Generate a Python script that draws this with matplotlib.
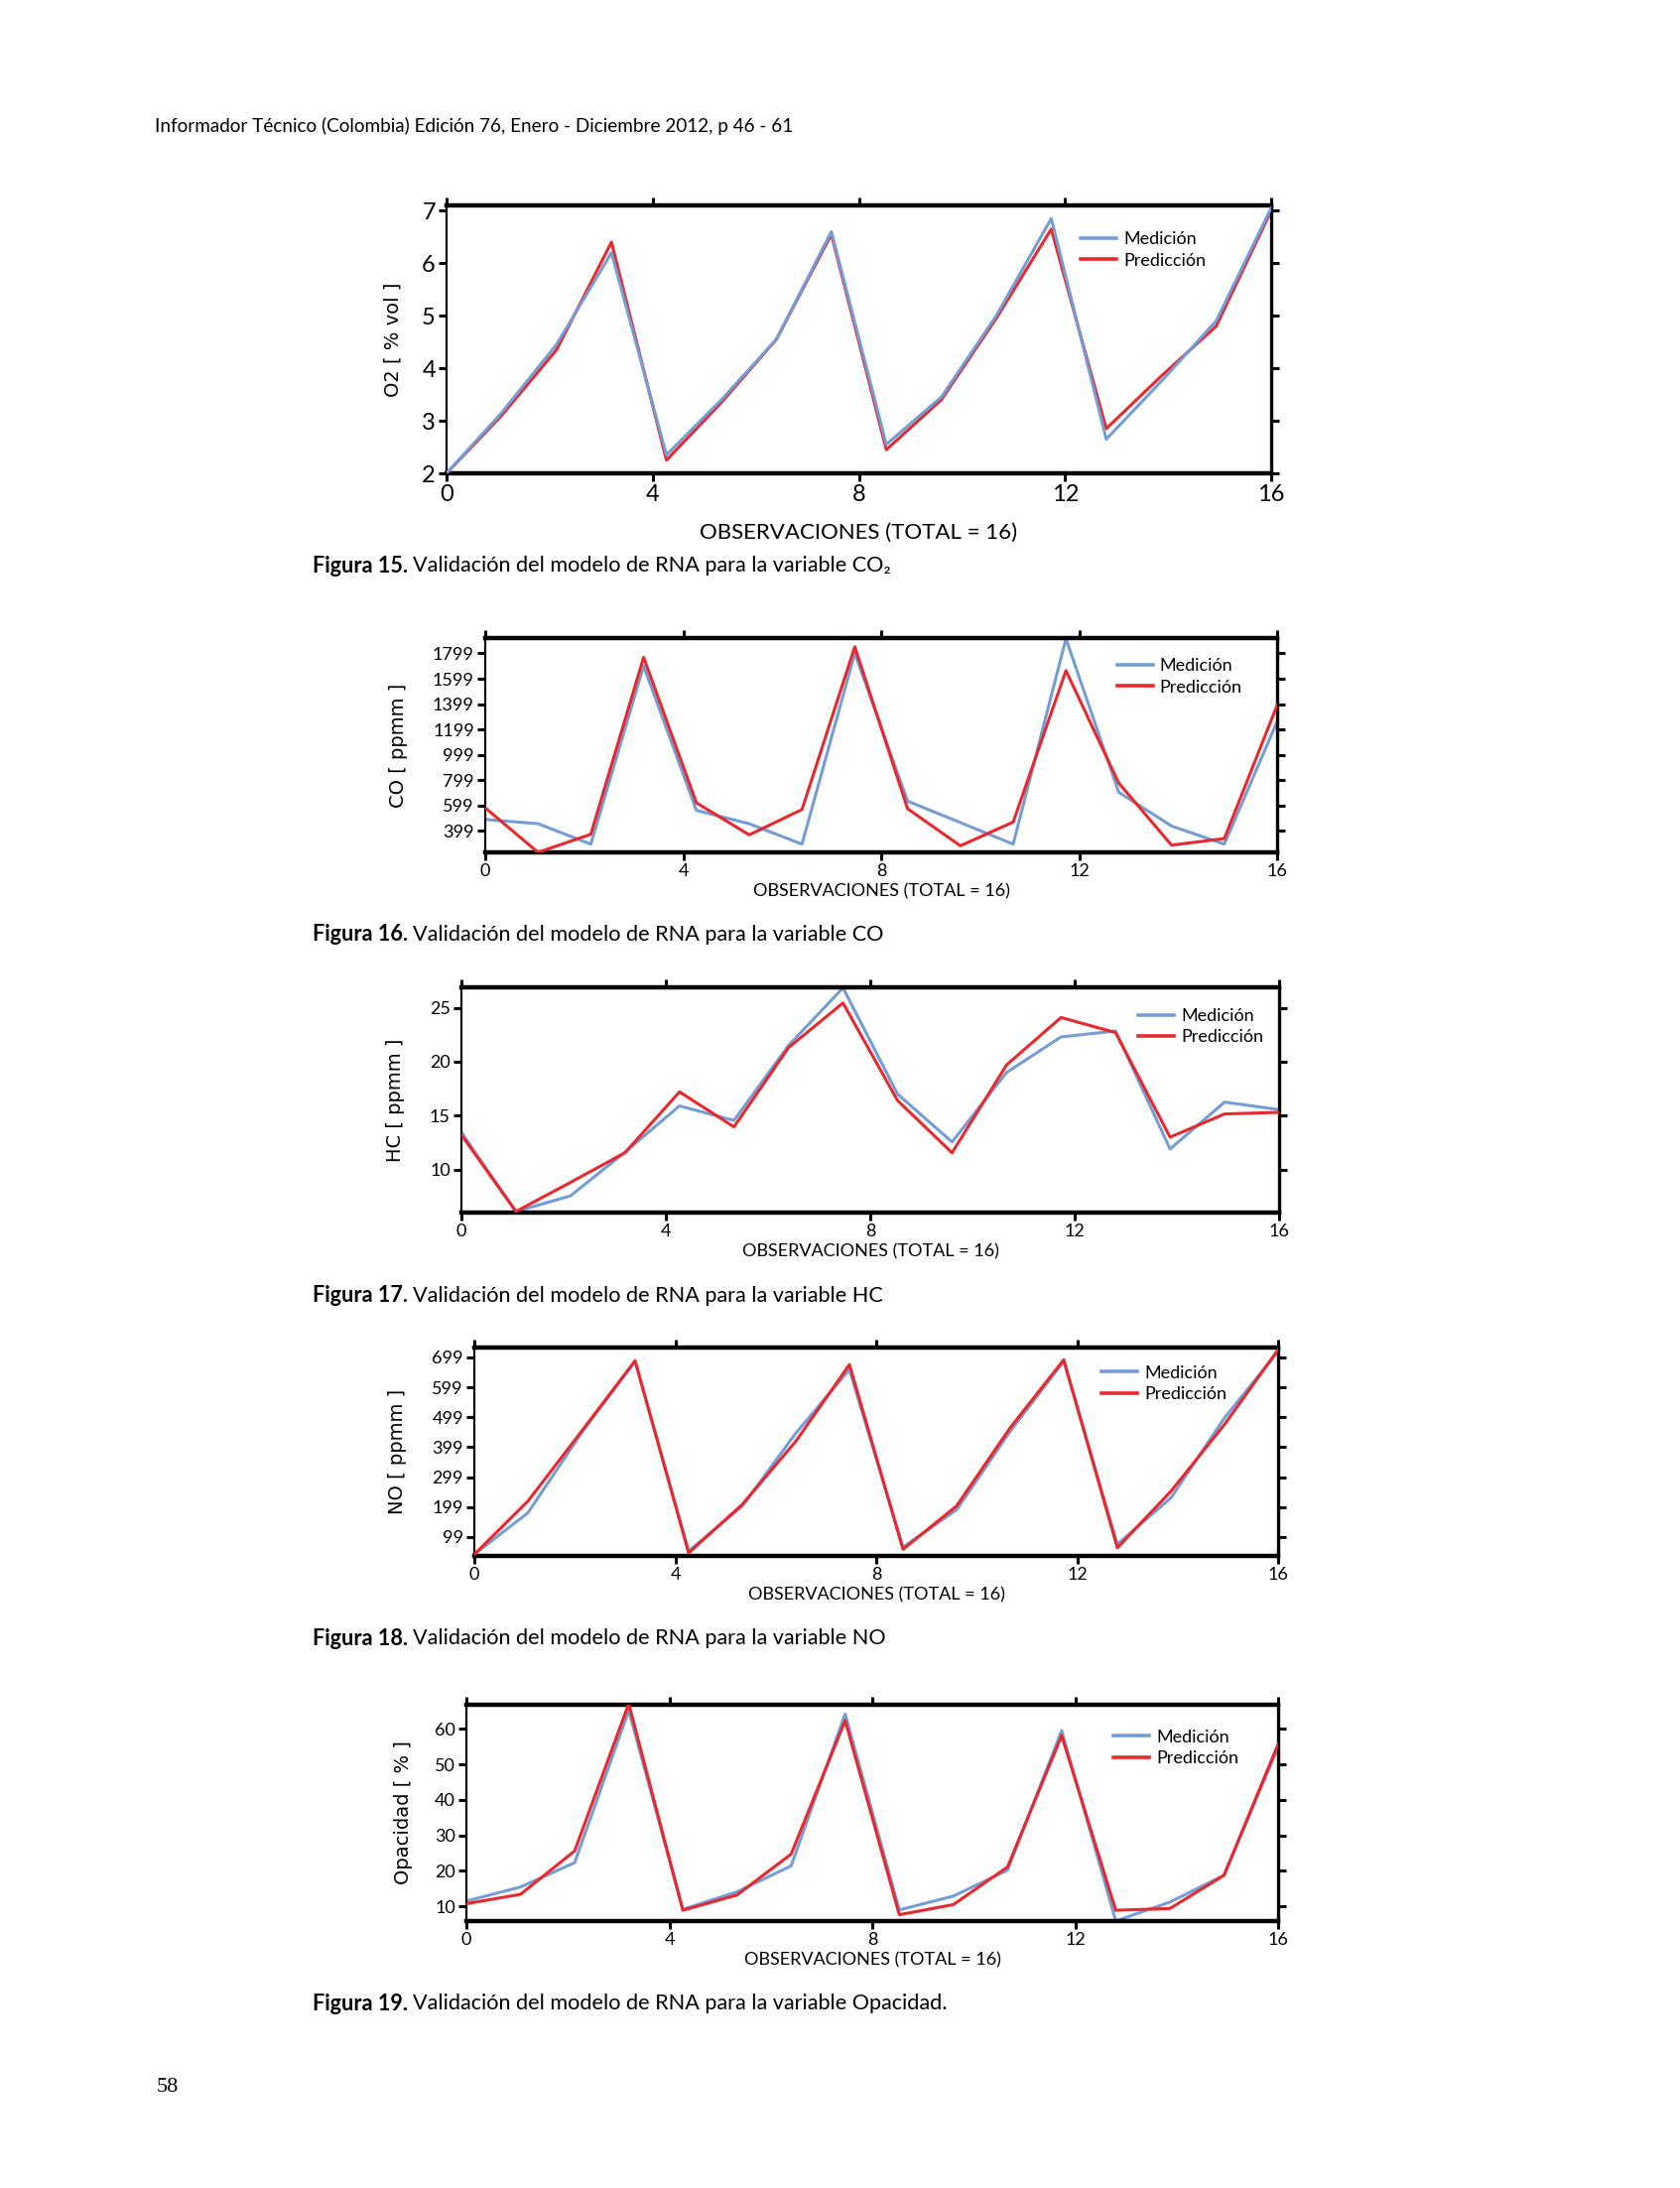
import numpy as np
import matplotlib
matplotlib.use("Agg")
import matplotlib.pyplot as plt

# ── data ───────────────────────────────────────────────────────────────────
n_obs = 16
obs_pos = np.arange(n_obs) * 16 / (n_obs - 1)   # 16 points spread over 0..16

o2_med  = [2.0, 3.15, 4.45, 6.2, 2.35, 3.4, 4.55, 6.6, 2.55, 3.45, 5.0, 6.85, 2.65, 3.75, 4.9, 7.05]
o2_pred = [2.0, 3.1, 4.35, 6.4, 2.25, 3.35, 4.55, 6.55, 2.45, 3.4, 4.95, 6.65, 2.85, 3.85, 4.8, 7.0]

co_med  = [490, 456, 295, 1700, 561, 456, 295, 1800, 634, 465, 295, 1915, 704, 438, 295, 1260]
co_pred = [581, 230, 373, 1768, 621, 368, 568, 1851, 574, 282, 469, 1663, 777, 287, 339, 1390]

hc_med  = [13.45, 6.1, 7.55, 11.6, 15.9, 14.55, 21.5, 26.85, 17.0, 12.55, 19.0, 22.3, 22.85, 11.9, 16.25, 15.55]
hc_pred = [13.2, 6.1, 8.8, 11.55, 17.2, 13.95, 21.3, 25.45, 16.4, 11.55, 19.7, 24.1, 22.7, 13.0, 15.15, 15.3]

no_med  = [41, 180, 447, 686, 52, 202, 446, 658, 65, 190, 452, 686, 75, 230, 497, 719]
no_pred = [41, 219, 452, 688, 46, 208, 419, 675, 58, 203, 464, 691, 63, 252, 475, 725]

op_med  = [11.5, 15.45, 22.3, 65.2, 9.15, 14.1, 21.4, 64.2, 9.0, 12.9, 20.2, 59.5, 5.9, 11.2, 18.75, 54.8]
op_pred = [10.75, 13.4, 25.6, 67.1, 8.9, 13.2, 24.7, 62.35, 7.65, 10.5, 21.1, 58.1, 8.9, 9.4, 18.75, 55.7]

x_ticks = [0, 4, 8, 12, 16]
o2_ticks = [2, 3, 4, 5, 6, 7]
co_ticks = [399, 599, 799, 999, 1199, 1399, 1599, 1799]
hc_ticks = [10, 15, 20, 25]
no_ticks = [99, 199, 299, 399, 499, 599, 699]
op_ticks = [10, 20, 30, 40, 50, 60]

header = "Informador Técnico (Colombia) Edición 76, Enero - Diciembre 2012, p 46 - 61"
x_label = "OBSERVACIONES (TOTAL = 16)"

BLUE = "#749dd6"
RED = "#e8282c"
NARROW = ["Lato", "DejaVu Sans"]
WIDE = ["DejaVu Sans"]

W, H = 1693, 2205
fig = plt.figure(figsize=(W / 100, H / 100), dpi=100)
fig.patch.set_facecolor("white")


def panel(box, med, pred, ylim, yticks, ylabel, leg_anchor,
          tick_fs=13, xlab_fs=13, ylab_fs=14, leg_fs=13, blue_top=False,
          xpad=3, ypad=12):
    l, t, r, b = box
    ax = fig.add_axes([l / W, 1 - b / H, (r - l) / W, (b - t) / H])
    zb, zr = (3, 2) if blue_top else (2, 3)
    ax.plot(obs_pos, med, color=BLUE, lw=2.2, label="Medición", zorder=zb)
    ax.plot(obs_pos, pred, color=RED, lw=2.2, label="Predicción", zorder=zr)
    ax.set_xlim(0, 16)
    ax.set_ylim(*ylim)
    ax.set_xticks(x_ticks)
    ax.set_yticks(yticks)
    ax.tick_params(axis="both", direction="out", top=True, right=True,
                   labelsize=tick_fs, length=6, width=2.2, pad=2)
    for lab in ax.get_xticklabels() + ax.get_yticklabels():
        lab.set_family(NARROW)
    ax.spines["top"].set_linewidth(3.2)
    ax.spines["bottom"].set_linewidth(3.2)
    ax.spines["left"].set_linewidth(1.6)
    ax.spines["right"].set_linewidth(2.4)
    ax.set_xlabel(x_label, fontsize=xlab_fs, family=NARROW, labelpad=xpad)
    ax.set_ylabel(ylabel, fontsize=ylab_fs, family=WIDE, labelpad=ypad)
    leg = ax.legend(loc="upper right", bbox_to_anchor=leg_anchor, frameon=False,
                    prop={"family": NARROW, "size": leg_fs}, handlelength=2.0,
                    handletextpad=0.4, labelspacing=0.3, borderaxespad=0)
    for ln in leg.get_lines():
        ln.set_linewidth(2.6)
    return ax


panel((450, 207, 1281, 477), o2_med, o2_pred, (2, 7.1), o2_ticks, "O2 [ % vol ]",
      (0.93, 0.93), tick_fs=17, xlab_fs=16, ylab_fs=14, leg_fs=13, blue_top=True,
      xpad=13, ypad=14)
panel((489, 643, 1287, 859), co_med, co_pred, (230, 1920), co_ticks, "CO [ ppmm ]",
      (0.965, 0.94), ypad=18)
panel((465, 995, 1289, 1222), hc_med, hc_pred, (6.0, 26.9), hc_ticks, "HC [ ppmm ]",
      (0.99, 0.94), ypad=18)
panel((478, 1358, 1288, 1568), no_med, no_pred, (36, 732), no_ticks, "NO [ ppmm ]",
      (0.945, 0.95), ypad=18)
panel((470, 1718, 1288, 1936), op_med, op_pred, (5.86, 66.8), op_ticks, "Opacidad [ % ]",
      (0.96, 0.92), ypad=16)

# ── page text ──────────────────────────────────────────────────────────────
fig.text(156 / W, 1 - 127 / H, header, fontsize=13.6, family=NARROW, va="center", ha="left")
fig.text(158 / W, 1 - 2103 / H, "58", fontsize=16, family=["Liberation Serif"],
         va="center", ha="left")

captions = [
    (570, "Figura 15.", "Validación del modelo de RNA para la variable CO₂"),
    (942, "Figura 16.", "Validación del modelo de RNA para la variable CO"),
    (1306, "Figura 17.", "Validación del modelo de RNA para la variable HC"),
    (1651, "Figura 18.", "Validación del modelo de RNA para la variable NO"),
    (2019, "Figura 19.", "Validación del modelo de RNA para la variable Opacidad."),
]
renderer = fig.canvas.get_renderer()
for ypx, bold, rest in captions:
    t = fig.text(315 / W, 1 - ypx / H, bold, fontsize=15.6, family=NARROW,
                 weight="bold", va="center", ha="left")
    bb = t.get_window_extent(renderer=renderer)
    fig.text((bb.x1 + 5) / W, 1 - ypx / H, rest, fontsize=15.6, family=NARROW,
             va="center", ha="left")

fig.savefig("out.png", dpi=100, facecolor="white")
